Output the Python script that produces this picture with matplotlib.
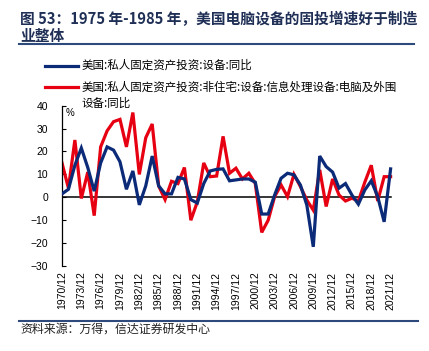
import numpy as np
import matplotlib.pyplot as plt

plt.rcParams['font.family'] = ['Noto Sans CJK SC', 'DejaVu Sans']

# 年份（每年12月）
years = [f"{y}/12" for y in range(1970, 2022)]

# 美国:私人固定资产投资:设备:同比 (%)
equip = [1.5, 3.5, 14, 21.5, 13, 2.7, 15, 22, 20.6, 15.5,
         3.5, 11.5, -3.3, 5, 18, 5, 1.5, 1.5, 8.7, 8,
         -1, -2.5, 6, 11.5, 12.2, 12.4, 7.2, 7.6, 8, 8,
         6.6, -7.3, -7.3, 1, 8.3, 10.5, 9.8, 5.4, -3.4, -21.6,
         18, 13.4, 11, 4, 6, 1, -3, 3.2, 7.2, 0.3,
         -10.7, 12.4]

# 美国:私人固定资产投资:非住宅:设备:信息处理设备:电脑及外围设备:同比 (%)
computer = [15, 4, 25, -0.5, 11, -8, 22, 29, 33, 34,
            22, 37, 10, 26, 32, 5, -1, 7, 6, 13,
            -10, -2, 15, 9, 9.3, 26.6, 10.5, 12.7, 8, 10.5,
            6, -15.3, -10, 0.3, 5.4, 0.3, 10, 4.7, -1.2, -5.6,
            12, -4, 8, 1, -1.6, -0.4, -1.6, 6.6, 14, -1.6,
            9, 9]

navy = '#0b2a78'
red = '#e60012'
title_c = '#1f2f55'

fig = plt.figure(figsize=(4.29, 3.51), dpi=100)

fig.text(0.047, 0.945, '图 53：1975 年-1985 年，美国电脑设备的固投增速好于制造',
         fontsize=10.6, fontweight='bold', color=title_c, va='center')
fig.text(0.047, 0.898, '业整体', fontsize=10.6, fontweight='bold', color=title_c, va='center')
fig.add_artist(plt.Line2D([0.044, 0.965], [0.874, 0.874], color='#2e4a7d', lw=1.5))
fig.add_artist(plt.Line2D([0.044, 0.975], [0.086, 0.086], color='#2e4a7d', lw=1.5))
fig.text(0.047, 0.062, '资料来源：万得，信达证券研发中心', fontsize=8.6,
         style='italic', color='#222222', va='center')

ax = fig.add_axes([0.1445, 0.242, 0.781, 0.457])
x = np.arange(len(years))
ax.axhline(0, xmin=0, xmax=(len(years) - 1) / 52, color='black', lw=1.1, zorder=1)
ax.plot(x, equip, color=navy, lw=2.3, solid_joinstyle='miter', zorder=3)
ax.plot(x, computer, color=red, lw=2.3, solid_joinstyle='miter', zorder=2)

ax.set_xlim(0, 52)
ax.set_ylim(-30, 40)
ax.set_yticks(range(-30, 41, 10))
ax.set_yticklabels([f"{v}" if v >= 0 else f"\u2212{-v}" for v in range(-30, 41, 10)],
                   family='Liberation Sans', fontsize=7.5)
ax.set_xticks(x[::3])
ax.set_xticklabels(years[::3], rotation=90, family='Liberation Sans', fontsize=7.5)
ax.tick_params(axis='x', length=0, pad=4)
ax.tick_params(axis='y', direction='in', length=3, width=0.8, pad=10)
for s in ['top', 'right', 'bottom']:
    ax.spines[s].set_visible(False)
ax.spines['left'].set_linewidth(0.9)
ax.text(0.6, 39, '%', fontsize=7, family='Liberation Sans', va='top')

# 图例
fig.add_artist(plt.Line2D([0.105, 0.182], [0.813, 0.813], color=navy, lw=2.3))
fig.text(0.191, 0.813, '美国:私人固定资产投资:设备:同比', fontsize=8.3, va='center')
fig.add_artist(plt.Line2D([0.105, 0.182], [0.753, 0.753], color=red, lw=2.3))
fig.text(0.191, 0.753, '美国:私人固定资产投资:非住宅:设备:信息处理设备:电脑及外围',
         fontsize=8.3, va='center')
fig.text(0.191, 0.705, '设备:同比', fontsize=8.3, va='center')

fig.savefig('out.png', dpi=100)
